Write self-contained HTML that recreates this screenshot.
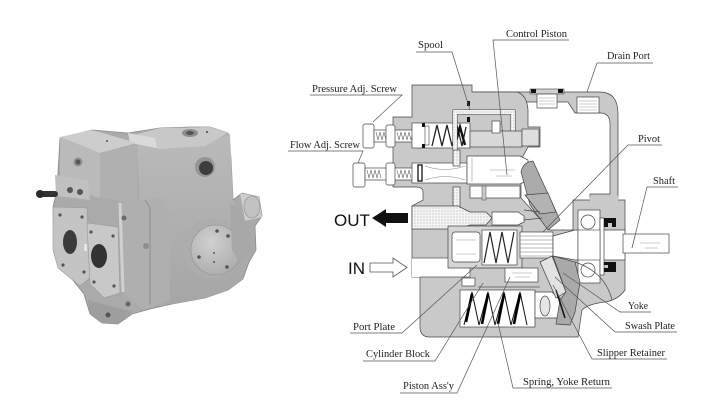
<!DOCTYPE html>
<html><head><meta charset="utf-8"><style>
html,body{margin:0;padding:0;background:#fff;}
svg{display:block}
.t{font-family:"Liberation Serif",serif;font-size:10.5px;fill:#222}
.s{font-family:"Liberation Sans",sans-serif;font-size:17px;fill:#111}
.ln{stroke:#555;stroke-width:0.7;fill:none}
.o{stroke:#444;stroke-width:0.7}
</style></head><body>
<svg width="720" height="420" viewBox="0 0 720 420" xmlns="http://www.w3.org/2000/svg">
<defs>
<pattern id="dots" width="3" height="3" patternUnits="userSpaceOnUse"><rect width="3" height="3" fill="#f4f4f4"/><circle cx="1" cy="1" r="0.55" fill="#9a9a9a"/></pattern>
<linearGradient id="gr" x1="0" y1="0" x2="0" y2="1"><stop offset="0" stop-color="#bababa"/><stop offset="1" stop-color="#a6a6a6"/></linearGradient>
<radialGradient id="gc" cx="0.4" cy="0.35" r="0.7"><stop offset="0" stop-color="#d0d0d0"/><stop offset="1" stop-color="#acacac"/></radialGradient>
</defs>

<!-- ================= PHOTO ================= -->
<g>
<path d="M53,207 L57,190 L60,138 L92,130 L128,133 L160,128 L190,127 L210,127 L228,133 L231,158 L233,200 L242,193 L259,197 L262,216 L255,226 L256,250 L249,262 L243,279 L228,290 L205,298 L172,304 L150,309 L132,314 L118,324 L102,323 L90,314 L84,294 L60,264 L54,246 Z" fill="#aaaaaa" stroke="#8a8a8a" stroke-width="0.8"/>
<path d="M137,143 L160,147 L200,146 L230,134 L233,200 L240,220 L250,250 L243,279 L228,290 L205,298 L172,304 L165,300 L165,212 L140,205 Z" fill="url(#gr)"/>
<path d="M130,136 L160,128 L210,127 L228,133 L205,146 L160,149 L137,144 Z" fill="#c8c8c8"/>
<path d="M128,133 L155,138 L157,148 L130,143 Z" fill="#dadada"/>
<path d="M60,137 L92,130 L137,143 L100,153 Z" fill="#cdcdcd"/>
<path d="M60,137 L100,153 L100,198 L60,187 Z" fill="#bababa"/>
<path d="M100,153 L137,144 L137,203 L100,198 Z" fill="#b0b0b0"/>
<circle cx="78" cy="162" r="4.5" fill="#909090"/><circle cx="78" cy="162" r="2.5" fill="#555"/>
<circle cx="107" cy="141" r="1" fill="#555"/>
<path d="M55,175 L88,180 L90,200 L56,196 Z" fill="#c0c0c0"/>
<rect x="38" y="191" width="20" height="6" rx="3" fill="#333"/>
<circle cx="40" cy="194" r="4" fill="#2a2a2a"/>
<circle cx="70" cy="190" r="3" fill="#555"/><circle cx="80" cy="192" r="3" fill="#555"/>
<path d="M53,207 L87,208 L90,278 L80,286 L58,268 L53,250 Z" fill="#c4c4c4" stroke="#999" stroke-width="0.6"/>
<path d="M87,223 L118,227 L120,293 L104,298 L90,284 Z" fill="#c8c8c8" stroke="#999" stroke-width="0.6"/>
<ellipse cx="70" cy="242" rx="7" ry="12" fill="#3a3a3a"/>
<ellipse cx="99" cy="256" rx="8" ry="12" fill="#333"/>
<g fill="#555"><circle cx="60" cy="215" r="1.6"/><circle cx="82" cy="217" r="1.6"/><circle cx="63" cy="265" r="1.6"/><circle cx="84" cy="272" r="1.6"/><circle cx="91" cy="232" r="1.6"/><circle cx="113" cy="236" r="1.6"/><circle cx="94" cy="282" r="1.6"/><circle cx="114" cy="286" r="1.6"/></g>
<rect x="84" y="244" width="3" height="7" fill="#e4e4e4"/>
<path d="M120,203 L163,198 L170,213 L170,300 L143,310 L123,292 Z" fill="#afafaf"/>
<path d="M120,203 L123,292" stroke="#d0d0d0" stroke-width="3"/>
<path d="M145,200 L150,208 L150,305" stroke="#949494" stroke-width="1.2" fill="none"/>
<circle cx="146" cy="246" r="3" fill="#8e8e8e"/>
<circle cx="124" cy="218" r="2.5" fill="#6a6a6a"/><circle cx="128" cy="304" r="2.5" fill="#666"/>
<path d="M88,300 L110,306 L132,312 L118,324 L102,323 L90,314 Z" fill="#9e9e9e"/>
<circle cx="108" cy="315" r="2.5" fill="#555"/>
<circle cx="212" cy="248" r="30" fill="#adadad"/>
<circle cx="216" cy="250" r="25" fill="url(#gc)" stroke="#9a9a9a" stroke-width="0.8"/>
<g fill="#555"><circle cx="217" cy="231" r="1.8"/><circle cx="228" cy="236" r="1.8"/><circle cx="199" cy="257" r="1.8"/><circle cx="227" cy="267" r="1.8"/><circle cx="214" cy="253" r="1"/><circle cx="214" cy="262" r="1"/></g>
<circle cx="205" cy="167" r="10" fill="#959595"/><circle cx="206" cy="168" r="7" fill="#3d3d3d"/>
<ellipse cx="190" cy="133" rx="8" ry="4" fill="#8e8e8e"/><ellipse cx="190" cy="133" rx="4" ry="2" fill="#555"/>
<circle cx="207" cy="132" r="1" fill="#444"/>
<path d="M230,203 L250,215 L253,253 L240,262 L232,250 Z" fill="#a8a8a8"/>
<path d="M240,193 L259,197 L262,217 L245,221 Z" fill="#cdcdcd"/>
<ellipse cx="252" cy="207" rx="8" ry="11" fill="#c2c2c2" stroke="#8c8c8c" stroke-width="0.6"/>
</g>

<!-- ================= DIAGRAM ================= -->
<path class="o" d="M472,92 H600 Q618,92 618,114 V198 H590 V194 H610 V124 Q610,113 600,113 H575 L568,102 H472 Z" fill="#c9c9c9"/>
<path class="o" d="M393,117 H412 V85 H472 V92 H517 Q527,95 528,110 V127 H540 V147 H528 L521,160 L521,198 L550,230 H573 V200 H625 V290 Q618,300 605,302 Q588,304 582,310 L578,337 H430 Q420,337 420,327 V277 H412 V206 L423,200 V192 Q423,187 416,187 H393 Z" fill="#c9c9c9"/>
<rect x="590" y="196" width="28" height="6" fill="#c9c9c9"/>

<g fill="#fff" stroke="#444" stroke-width="0.7">
<rect x="363" y="124" width="11" height="24" rx="2"/>
<rect x="374" y="130" width="46" height="12"/>
<rect x="386" y="125" width="9" height="22" rx="2"/>
<rect x="353" y="163" width="12" height="24" rx="2"/>
<rect x="365" y="168" width="50" height="12"/>
<rect x="386" y="163" width="9" height="22" rx="2"/>
</g>
<path d="M376,132 l2,8 l2,-8 l2,8 l2,-8 l2,8 M397,132 l2,8 l2,-8 l2,8 l2,-8 l2,8 l2,-8 l2,8 l2,-8 l2,8 M367,170 l2,8 l2,-8 l2,8 l2,-8 l2,8 l2,-8 l2,8 M397,170 l2,8 l2,-8 l2,8 l2,-8 l2,8 l2,-8 l2,8" stroke="#666" stroke-width="0.6" fill="none"/>

<rect class="o" x="412" y="123" width="58" height="25" fill="#fff"/>
<rect x="422" y="123" width="3" height="4" fill="#111"/><rect x="422" y="144" width="3" height="4" fill="#111"/>
<rect x="425" y="126" width="4" height="19" fill="#fff" stroke="#444" stroke-width="0.6"/>
<path d="M432,146 L437,125 L442,146 L447,125 L452,146 L457,125 L462,146 L466,127" stroke="#222" stroke-width="1.3" fill="none"/>
<path d="M455,145 L460,127 L465,145" stroke="#111" stroke-width="2.4" fill="none"/>
<rect class="o" x="412" y="163" width="55" height="20" fill="#fff"/>
<rect x="418" y="165" width="4" height="16" fill="#fff" stroke="#222" stroke-width="1.4"/>
<path d="M425,166 Q445,173 465,166 M425,180 Q445,173 465,180" stroke="#888" stroke-width="0.6" fill="none"/>
<path d="M455,150 V112 H513 V140 H520" stroke="#444" stroke-width="5" fill="none"/>
<path d="M455,150 V112 H513 V140 H520" stroke="url(#dots)" stroke-width="4" fill="none"/>
<rect class="o" x="470" y="131" width="52" height="16" fill="#d8d8d8"/>
<rect class="o" x="492" y="121" width="8" height="12" fill="#fff"/>
<rect x="467" y="101" width="3" height="5" fill="#111"/><rect x="467" y="117" width="3" height="5" fill="#111"/>
<rect class="o" x="522" y="129" width="17" height="17" fill="#dedede"/>
<path class="o" d="M467,156 H520 L528,160 V180 L520,184 H467 Z" fill="#fff"/>
<path d="M472,158 L472,182 M490,170 H515 M496,176 H512" stroke="#999" stroke-width="0.6"/>
<rect class="o" x="453" y="150" width="7" height="16" fill="url(#dots)"/>
<rect class="o" x="453" y="187" width="7" height="22" fill="url(#dots)"/>
<rect class="o" x="470" y="186" width="50" height="12" fill="#fff"/>
<rect x="482" y="186" width="4" height="14" fill="#c9c9c9" stroke="#444" stroke-width="0.5"/>
<rect x="530" y="89" width="34" height="5" fill="#d0d0d0" stroke="#444" stroke-width="0.6"/>
<rect x="531" y="89" width="5" height="4" fill="#111"/><rect x="558" y="89" width="5" height="4" fill="#111"/>
<rect class="o" x="537" y="94" width="20" height="14" fill="#fff"/>
<rect class="o" x="577" y="97" width="22" height="16" fill="#fff"/>
<path d="M539,98 H555 M539,101 H555 M539,104 H555 M579,101 H597 M579,104 H597 M579,107 H597 M579,110 H597" stroke="#999" stroke-width="0.5"/>

<path class="o" d="M521,172 Q523,162 533,161 L560,220 L548,230 L530,205 Z" fill="#ababab"/>
<path class="o" d="M525,195 L548,193 L556,212 L540,214 Z" fill="#b3b3b3"/>

<path class="o" d="M412,206 H458 L470,212 H486 L492,218 L486,225 H470 L458,229 H412 Z" fill="url(#dots)"/>
<path class="o" d="M492,212 H518 L524,216 V222 L518,225 H492 Z" fill="#fff"/>
<path d="M524,210 L540,212 M524,220 L542,218" stroke="#444" stroke-width="0.8"/>
<rect x="412" y="258" width="58" height="19" fill="#fff"/>
<path d="M412,258 H470 V277 H420" class="ln"/>

<rect class="o" x="448" y="226" width="74" height="42" fill="#d6d6d6"/>
<rect class="o" x="452" y="232" width="28" height="30" rx="3" fill="#fff"/>
<path d="M456,240 H476 M456,254 H476" stroke="#999" stroke-width="0.6"/>
<rect class="o" x="482" y="230" width="35" height="35" fill="#fff"/>
<path d="M484,263 L490,232 L496,263 L502,232 L508,263 L514,232" stroke="#222" stroke-width="1.2" fill="none"/>
<rect class="o" x="520" y="232" width="33" height="26" fill="#fff"/>
<path d="M520,236 H553 M520,240 H553 M520,244 H553 M520,248 H553 M520,252 H553 M520,256 H553" stroke="#777" stroke-width="0.6"/>
<path class="o" d="M553,236 L575,230 H625 V260 H575 L553,256 Z" fill="#fff"/>
<rect class="o" x="623" y="234" width="46" height="19" fill="#fff"/>
<path d="M640,243 H660 M645,248 H658 M635,236 L632,248" stroke="#999" stroke-width="0.6"/>
<rect class="o" x="578" y="210" width="22" height="73" fill="#fff"/>
<rect class="o" x="600" y="218" width="4" height="57" fill="#fff"/>
<circle class="o" cx="588" cy="222" r="7" fill="#fff"/>
<circle class="o" cx="588" cy="270" r="7" fill="#fff"/>
<rect x="578" y="230" width="22" height="30" fill="#fff" stroke="#444" stroke-width="0.6"/>
<path d="M604,218 h12 v9 h-4 v-4 h-4 v4 h-4 Z M604,262 h12 v10 h-12 v-4 h4 v-3 h-4 Z" fill="#111"/>

<rect class="o" x="505" y="268" width="33" height="14" fill="#fff"/>
<path d="M512,273 H532 M515,277 H530" stroke="#999" stroke-width="0.6"/>
<rect class="o" x="462" y="278" width="13" height="8" fill="#fff"/>
<path d="M478,268 H505 M478,287 H540" class="ln"/>
<rect class="o" x="460" y="290" width="75" height="37" fill="#fff"/>
<path d="M464,325 L472,292 L479,325 L488,292 L495,325 L504,292 L511,325 L520,292 L527,325" stroke="#111" stroke-width="1" fill="none"/>
<path d="M466,322 L472,294 M482,324 L488,294 M498,324 L504,294 M514,324 L520,294" stroke="#000" stroke-width="2.6"/>
<path class="o" d="M535,292 H552 L560,300 V318 H535 Z" fill="#fff"/>
<ellipse class="o" cx="545" cy="306" rx="5" ry="10" fill="#e6e6e6"/>
<path class="o" d="M540,262 L552,256 L566,292 L556,298 Z" fill="#e2e2e2"/>
<path class="o" d="M553,256 L575,262 L580,282 L575,312 L570,325 L556,324 L560,300 L566,292 Z" fill="#a9a9a9"/>
<path d="M556,290 L565,318" stroke="#111" stroke-width="1.5"/>
<path d="M575,262 Q605,272 612,300" class="ln"/>

<text class="s" x="334" y="226">OUT</text>
<path d="M372,218 L386,209 V213 H408 V223 H386 V227 Z" fill="#111"/>
<text class="s" x="348" y="274">IN</text>
<path d="M370,263 H393 V258 L407,267.5 L393,277 V272 H370 Z" fill="#fff" stroke="#555" stroke-width="0.8"/>

<g class="t">
<text x="418" y="48" textLength="25" lengthAdjust="spacingAndGlyphs">Spool</text>
<text x="506" y="37" textLength="61" lengthAdjust="spacingAndGlyphs">Control Piston</text>
<text x="312" y="92" textLength="85" lengthAdjust="spacingAndGlyphs">Pressure Adj. Screw</text>
<text x="290" y="148" textLength="70" lengthAdjust="spacingAndGlyphs">Flow Adj. Screw</text>
<text x="607" y="59" textLength="43" lengthAdjust="spacingAndGlyphs">Drain Port</text>
<text x="638" y="142" textLength="22" lengthAdjust="spacingAndGlyphs">Pivot</text>
<text x="653" y="184" textLength="22" lengthAdjust="spacingAndGlyphs">Shaft</text>
<text x="628" y="309" textLength="20" lengthAdjust="spacingAndGlyphs">Yoke</text>
<text x="625" y="329" textLength="50" lengthAdjust="spacingAndGlyphs">Swash Plate</text>
<text x="597" y="356" textLength="68" lengthAdjust="spacingAndGlyphs">Slipper Retainer</text>
<text x="523" y="385" textLength="87" lengthAdjust="spacingAndGlyphs">Spring, Yoke Return</text>
<text x="353" y="330" textLength="42" lengthAdjust="spacingAndGlyphs">Port Plate</text>
<text x="366" y="357" textLength="64" lengthAdjust="spacingAndGlyphs">Cylinder Block</text>
<text x="403" y="389" textLength="51" lengthAdjust="spacingAndGlyphs">Piston Ass'y</text>
</g>
<g class="ln">
<path d="M416,52 H452 L470,110"/>
<path d="M569,40 H493 L507,175"/>
<path d="M310,95 H402 L373,122"/>
<path d="M288,151 H363 L358,163"/>
<path d="M653,63 H597 L587,92"/>
<path d="M662,145 H628 L543,232"/>
<path d="M678,187 H647 L632,248"/>
<path d="M651,312 H620 L563,273"/>
<path d="M677,332 H615 L555,277"/>
<path d="M667,359 H592 L553,285"/>
<path d="M612,388 H513 L498,323"/>
<path d="M350,333 H402 L477,265"/>
<path d="M363,361 H435 L483,283"/>
<path d="M400,393 H457 L510,277"/>
</g>
</svg>
</body></html>
